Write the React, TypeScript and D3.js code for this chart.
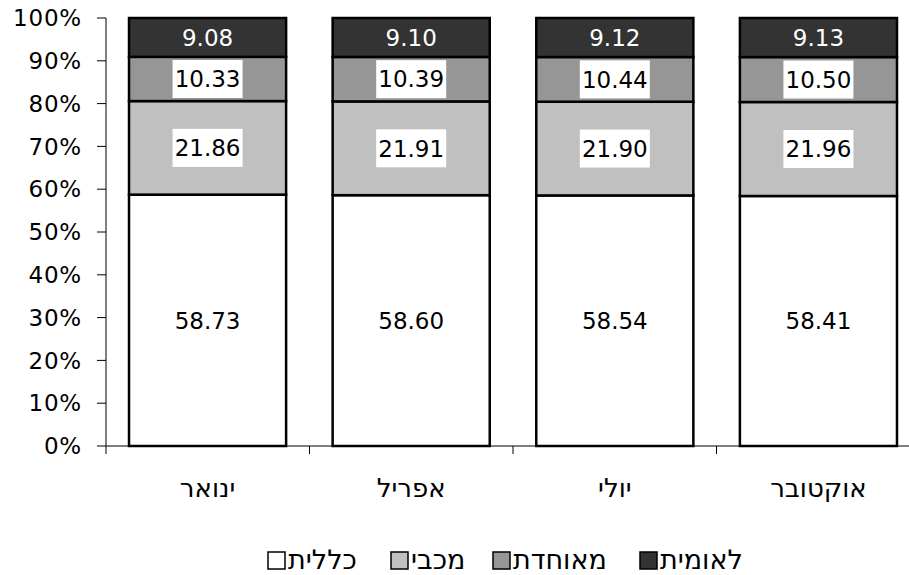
import React from "react";
import * as d3 from "d3";

const categories = ["ינואר", "אפריל", "יולי", "אוקטובר"];
const seriesNames = ["כללית", "מכבי", "מאוחדת", "לאומית"];
const clalit = [58.73, 58.6, 58.54, 58.41];
const maccabi = [21.86, 21.91, 21.9, 21.96];
const meuhedet = [10.33, 10.39, 10.44, 10.5];
const leumit = [9.08, 9.1, 9.12, 9.13];
const yTicks = [0, 10, 20, 30, 40, 50, 60, 70, 80, 90, 100];

const colors = ["#ffffff", "#c0c0c0", "#969696", "#333333"];
const labelColors = ["#000", "#000", "#000", "#fff"];
const labelBox = [true, true, true, false];

const W = 909;
const H = 575;
const FONT = "'DejaVu Sans', Verdana, sans-serif";

export default function App() {
  const left = 106;
  const bandW = 203.5;
  const x = d3
    .scaleBand<string>()
    .domain(categories)
    .range([left, left + bandW * categories.length])
    .paddingInner(46.5 / bandW)
    .paddingOuter(23 / bandW);
  const xb = d3
    .scaleBand<string>()
    .domain(categories)
    .range([left, left + bandW * categories.length]);
  const y = d3.scaleLinear().domain([0, 100]).range([446, 18]);

  const rows = categories.map((c, i) => ({
    cat: c,
    s0: clalit[i],
    s1: maccabi[i],
    s2: meuhedet[i],
    s3: leumit[i],
  }));
  const stack = d3.stack<any>().keys(["s0", "s1", "s2", "s3"]);
  const series = stack(rows);

  const legendX = [268, 391, 493, 640];

  return (
    <svg width={W} height={H} style={{ position: "absolute", left: 0, top: 0 }} fontFamily={FONT}>
      <rect x={0} y={0} width={W} height={H} fill="#fff" />
      {/* y axis */}
      <line x1={left} x2={left} y1={y(100)} y2={y(0) + 8} stroke="#000" strokeWidth={1} />
      {yTicks.map((t) => (
        <g key={t}>
          <line x1={left - 9} x2={left} y1={y(t)} y2={y(t)} stroke="#000" strokeWidth={1} />
          <text x={82} y={y(t)} dy="0.36em" textAnchor="end" fontSize={23} letterSpacing={0.8} fill="#000">
            {t}%
          </text>
        </g>
      ))}
      {/* x axis */}
      <line x1={left} x2={W} y1={y(0)} y2={y(0)} stroke="#000" strokeWidth={1} />
      {categories.map((c) => (
        <line
          key={c}
          x1={(xb(c) as number) + bandW}
          x2={(xb(c) as number) + bandW}
          y1={y(0)}
          y2={y(0) + 8}
          stroke="#000"
          strokeWidth={1}
        />
      ))}
      {categories.map((c) => (
        <text
          key={c}
          x={(x(c) as number) + x.bandwidth() / 2}
          y={497}
          textAnchor="middle"
          fontSize={26}
          fill="#000"
        >
          {c}
        </text>
      ))}
      {/* bars */}
      {series.map((s, si) => (
        <g key={si}>
          {s.map((d, i) => (
            <rect
              key={i}
              x={x(categories[i]) as number}
              y={y(d[1])}
              width={x.bandwidth()}
              height={y(d[0]) - y(d[1])}
              fill={colors[si]}
              stroke="#000"
              strokeWidth={2.5}
            />
          ))}
        </g>
      ))}
      {/* labels */}
      {series.map((s, si) => (
        <g key={"l" + si}>
          {s.map((d, i) => {
            const cx = (x(categories[i]) as number) + x.bandwidth() / 2;
            const cy = (y(d[0]) + y(d[1])) / 2;
            const v = d[1] - d[0];
            return (
              <g key={i}>
                {labelBox[si] && si > 0 && (
                  <rect x={cx - 35} y={cy - 19} width={70} height={38} fill="#fff" />
                )}
                <text x={cx} y={cy} dy="0.36em" textAnchor="middle" fontSize={23} fill={labelColors[si]}>
                  {v.toFixed(2)}
                </text>
              </g>
            );
          })}
        </g>
      ))}
      {/* legend */}
      {seriesNames.map((n, i) => (
        <g key={n}>
          <rect x={legendX[i]} y={552} width={17} height={17} fill={colors[i]} stroke="#000" strokeWidth={1.5} />
          <text x={legendX[i] + 20} y={569} fontSize={27} fill="#000" textAnchor="start">
            {n}
          </text>
        </g>
      ))}
    </svg>
  );
}
